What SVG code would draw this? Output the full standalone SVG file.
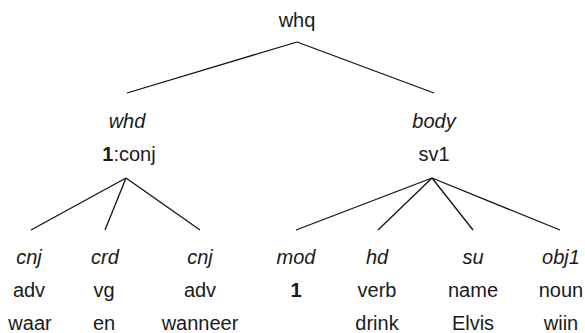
<svg xmlns="http://www.w3.org/2000/svg" width="585" height="333" viewBox="0 0 585 333">
<style>
text{font-family:"Liberation Sans",Arial,sans-serif;font-size:20px;fill:#1a1a1a;text-anchor:middle}
.r{font-style:italic}
.b{font-weight:bold}
.e line{stroke:#111;stroke-width:1.3;fill:none}
</style>
<rect width="585" height="333" fill="#fff"/>
<g id="connectors" class="e">
<line x1="297" y1="42" x2="127" y2="93"/>
<line x1="297" y1="42" x2="434" y2="93"/>
<line x1="126" y1="178" x2="31" y2="230"/>
<line x1="126" y1="178" x2="105" y2="230"/>
<line x1="126" y1="178" x2="200" y2="230"/>
<line x1="432" y1="178" x2="296" y2="230"/>
<line x1="432" y1="178" x2="378" y2="230"/>
<line x1="432" y1="178" x2="473" y2="230"/>
<line x1="432" y1="178" x2="560" y2="230"/>
</g>
<g id="n-whq"><text x="297" y="27">whq</text></g>
<g id="n-whd"><text class="r" x="127" y="128">whd</text><text x="129" y="161"><tspan class="b">1</tspan>:conj</text></g>
<g id="n-body"><text class="r" x="434" y="128">body</text><text x="434" y="161">sv1</text></g>
<g id="n-cnj1"><text class="r" x="29" y="264">cnj</text><text x="29" y="297">adv</text><text x="30" y="330">waar</text></g>
<g id="n-crd"><text class="r" x="105" y="264">crd</text><text x="104" y="297">vg</text><text x="104" y="330">en</text></g>
<g id="n-cnj2"><text class="r" x="200" y="264">cnj</text><text x="200" y="297">adv</text><text x="200" y="330">wanneer</text></g>
<g id="n-mod"><text class="r" x="296" y="264">mod</text><text class="b" x="296" y="297">1</text></g>
<g id="n-hd"><text class="r" x="377" y="264">hd</text><text x="377" y="297">verb</text><text x="377" y="330">drink</text></g>
<g id="n-su"><text class="r" x="473" y="264">su</text><text x="473" y="297">name</text><text x="473" y="330">Elvis</text></g>
<g id="n-obj1"><text class="r" x="561" y="264">obj1</text><text x="561" y="297">noun</text><text x="561" y="330">wiin</text></g>
</svg>
